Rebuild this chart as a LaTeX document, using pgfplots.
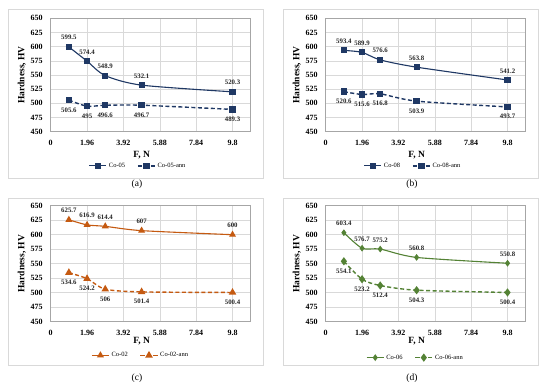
\documentclass[border=0pt]{standalone}
\usepackage{fontspec}
\setmainfont{Liberation Serif}
\usepackage{pgfplots}
\pgfplotsset{compat=1.18}
\definecolor{navy}{HTML}{1F3864}
\definecolor{orng}{HTML}{C55A11}
\definecolor{grn}{HTML}{548235}
\definecolor{gridgray}{HTML}{D9D9D9}
\definecolor{bordergray}{HTML}{A6A6A6}
\definecolor{framegray}{HTML}{D9D9D9}
\pgfplotsset{
  hv/.style={
    scale only axis, width=200pt,
    xmin=0, xmax=10.78, ymin=450, ymax=650,
    xtick={0,1.96,3.92,5.88,7.84,9.8},
    ytick={450,475,...,650},
    grid=major, major grid style={draw=gridgray, line width=0.5pt},
    axis line style={draw=bordergray, line width=0.7pt},
    major tick length=0pt,
    /pgf/number format/assume math mode=true,
    ticklabel style={font=\fontsize{8}{9}\selectfont\bfseries},
    xticklabel style={yshift=-5pt},
    yticklabel style={xshift=-4.5pt},
    xlabel={F, N}, ylabel={Hardness, HV},
    label style={font=\fontsize{9.5}{10}\selectfont\bfseries},
    ylabel style={at={(axis description cs:-0.145,0.5)}, anchor=center},
    legend columns=2,
    legend style={draw=none, fill=none, font=\fontsize{6.5}{7}\selectfont,
      /tikz/every even column/.append style={column sep=10pt}},
    legend cell align=left,
    clip=false,
    nodes near coords,
    every node near coord/.append style={font=\fontsize{6.8}{7}\selectfont\bfseries, text=black!85},
  },
  solidser/.style={#1, line width=1.1pt, smooth, tension=0.45,
    every node near coord/.append style={anchor=south, yshift=3pt}},
  annser/.style={#1, line width=1.4pt, dash pattern=on 4pt off 2.5pt, smooth, tension=0.45,
    mark options={solid},
    every node near coord/.append style={anchor=north, yshift=-3.5pt}},
}
\begin{document}
\begin{tikzpicture}
\path[fill=white] (0pt,0pt) rectangle (550pt,390pt);
\useasboundingbox (0pt,0pt) rectangle (550pt,390pt);
% frames
\draw[framegray, line width=0.8pt] (8pt,212pt) rectangle (263pt,381pt);
\draw[framegray, line width=0.8pt] (283pt,212pt) rectangle (538pt,381pt);
\draw[framegray, line width=0.8pt] (8pt,25pt) rectangle (263pt,192pt);
\draw[framegray, line width=0.8pt] (283pt,25pt) rectangle (538pt,192pt);
% captions
\node[font=\fontsize{9.5}{10}\selectfont] at (137pt,206pt) {(a)};
\node[font=\fontsize{9.5}{10}\selectfont] at (412pt,206pt) {(b)};
\node[font=\fontsize{9.5}{10}\selectfont] at (137pt,12pt) {(c)};
\node[font=\fontsize{9.5}{10}\selectfont] at (412pt,12pt) {(d)};

% (a)
\begin{axis}[hv, at={(50.7pt,258.3pt)}, anchor=south west, height=113.4pt,
  xlabel style={at={(axis description cs:0.455,-0.205)}, anchor=center},
  legend style={at={(axis description cs:0.437,-0.302)}, anchor=center}]
\addplot[solidser={navy}, mark=square*, mark size=2.5pt] coordinates {(0.98,599.5) (1.96,574.4) (2.94,548.9) (4.9,532.1) (9.8,520.3)};
\addlegendentry{Co-05}
\addplot[annser={navy}, mark=square*, mark size=2.5pt] coordinates {(0.98,505.6) (1.96,495) (2.94,496.6) (4.9,496.7) (9.8,489.3)};
\addlegendentry{Co-05-ann}
\end{axis}

% (b)
\begin{axis}[hv, at={(325.7pt,258.3pt)}, anchor=south west, height=113.4pt,
  xlabel style={at={(axis description cs:0.455,-0.205)}, anchor=center},
  legend style={at={(axis description cs:0.437,-0.302)}, anchor=center}]
\addplot[solidser={navy}, mark=square*, mark size=2.5pt] coordinates {(0.98,593.4) (1.96,589.9) (2.94,576.6) (4.9,563.8) (9.8,541.2)};
\addlegendentry{Co-08}
\addplot[annser={navy}, mark=square*, mark size=2.5pt] coordinates {(0.98,520.6) (1.96,515.6) (2.94,516.8) (4.9,503.9) (9.8,493.7)};
\addlegendentry{Co-08-ann}
\end{axis}

% (c)
\begin{axis}[hv, at={(50.7pt,68.3pt)}, anchor=south west, height=116pt,
  xlabel style={at={(axis description cs:0.455,-0.168)}, anchor=center},
  legend style={at={(axis description cs:0.45,-0.29)}, anchor=center}]
\addplot[solidser={orng}, mark=triangle*, mark size=3pt] coordinates {(0.98,625.7) (1.96,616.9) (2.94,614.4) (4.9,607) (9.8,600)};
\addlegendentry{Co-02}
\addplot[annser={orng}, mark=triangle*, mark size=3pt] coordinates {(0.98,534.6) (1.96,524.2) (2.94,506) (4.9,501.4) (9.8,500.4)};
\addlegendentry{Co-02-ann}
\end{axis}

% (d)
\begin{axis}[hv, at={(325.7pt,68.3pt)}, anchor=south west, height=116pt,
  xlabel style={at={(axis description cs:0.455,-0.168)}, anchor=center},
  legend style={at={(axis description cs:0.449,-0.31)}, anchor=center}]
\addplot[solidser={grn}, mark=diamond*, mark size=2.5pt] coordinates {(0.98,603.4) (1.96,576.7) (2.94,575.2) (4.9,560.8) (9.8,550.8)};
\addlegendentry{Co-06}
\addplot[annser={grn}, mark=diamond*, mark size=3pt] coordinates {(0.98,554.1) (1.96,523.2) (2.94,512.4) (4.9,504.3) (9.8,500.4)};
\addlegendentry{Co-06-ann}
\end{axis}
\end{tikzpicture}
\end{document}
